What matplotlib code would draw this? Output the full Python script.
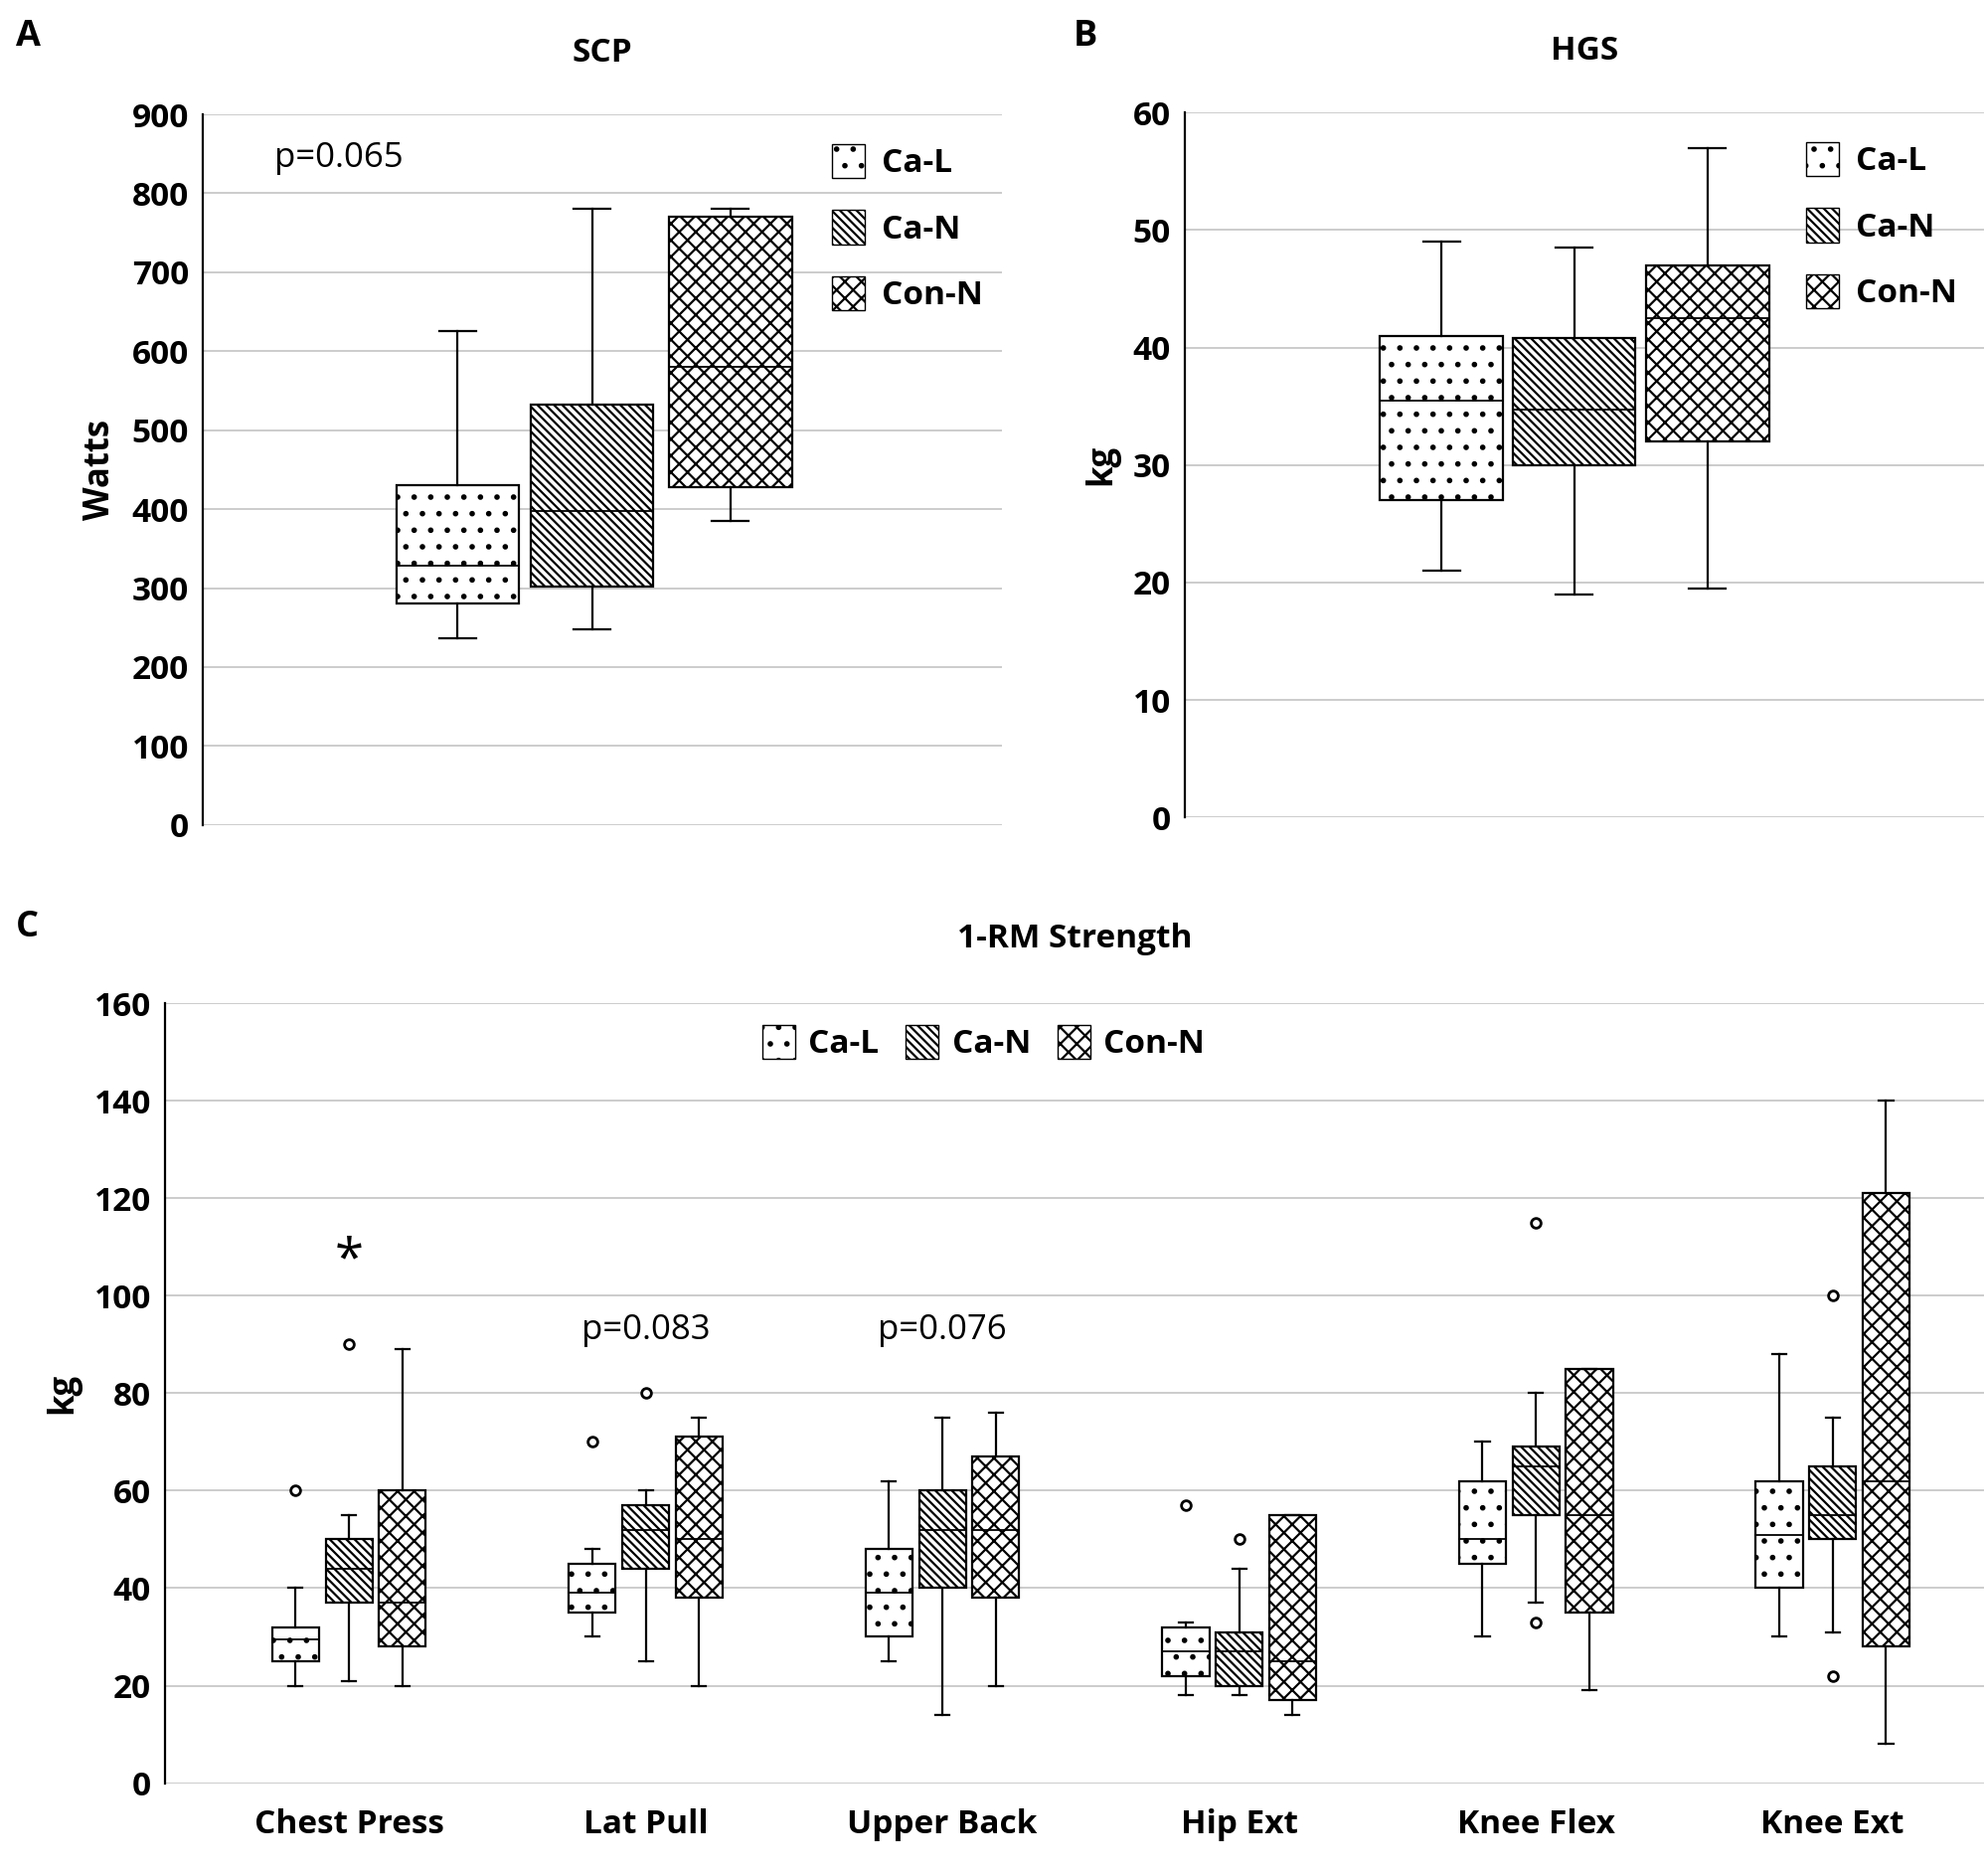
import matplotlib
matplotlib.use("Agg")
import matplotlib.pyplot as plt
from matplotlib.patches import Patch

plt.rcParams['font.family'] = ['Open Sans', 'DejaVu Sans']
plt.rcParams['hatch.linewidth'] = 1.6

groups = ["Ca-L", "Ca-N", "Con-N"]
hatches = [".", "\\\\\\\\", "xx"]

# (whislo, q1, med, q3, whishi, outliers)
scp = [(237, 280, 328, 430, 625, []),
       (248, 302, 398, 532, 780, []),
       (385, 428, 580, 770, 780, [])]
hgs = [(21, 27, 35.5, 41, 49, []),
       (19, 30, 34.7, 40.8, 48.5, []),
       (19.5, 32, 42.5, 47, 57, [])]
exercises = ["Chest Press", "Lat Pull", "Upper Back", "Hip Ext", "Knee Flex", "Knee Ext"]
rm_cal = [(20, 25, 29.5, 32, 40, [60]), (30, 35, 39, 45, 48, [70]), (25, 30, 39, 48, 62, []),
          (18, 22, 27, 32, 33, [57]), (30, 45, 50, 62, 70, []), (30, 40, 51, 62, 88, [])]
rm_can = [(21, 37, 44, 50, 55, [90]), (25, 44, 52, 57, 60, [80]), (14, 40, 52, 60, 75, []),
          (18, 20, 27, 31, 44, [50]), (37, 55, 65, 69, 80, [115, 33]), (31, 50, 55, 65, 75, [100, 22])]
rm_con = [(20, 28, 37, 60, 89, []), (20, 38, 50, 71, 75, []), (20, 38, 52, 67, 76, []),
          (14, 17, 25, 55, 55, []), (19, 35, 55, 85, 85, []), (8, 28, 62, 121, 140, [])]

def stat(t):
    lo, q1, m, q3, hi, fl = t
    return dict(whislo=lo, q1=q1, med=m, q3=q3, whishi=hi, fliers=fl)

def draw(ax, stats, pos, width, hatch):
    b = ax.bxp([stat(s) for s in stats], positions=pos, widths=width, patch_artist=True,
               showcaps=True, manage_ticks=False,
               boxprops=dict(facecolor='white', edgecolor='black', linewidth=1.6),
               medianprops=dict(color='black', linewidth=1.3),
               whiskerprops=dict(color='black', linewidth=1.6),
               capprops=dict(color='black', linewidth=1.6),
               flierprops=dict(marker='o', markersize=7, markerfacecolor='white',
                               markeredgecolor='black', markeredgewidth=2))
    for p in b['boxes']:
        p.set_hatch(hatch)
    for c in b['caps']:
        x = c.get_xdata(); mid = (x[0] + x[1]) / 2; hw = (x[1] - x[0]) / 2 * 0.6
        c.set_xdata([mid - hw, mid + hw])

def style(ax, ymax, step):
    ax.set_ylim(0, ymax)
    ax.set_yticks(range(0, ymax + 1, step))
    ax.grid(axis='y', color='#c8c8c8', linewidth=1.3)
    ax.set_axisbelow(True)
    for s in ['top', 'right', 'bottom']:
        ax.spines[s].set_visible(False)
    ax.spines['left'].set_linewidth(1.6)
    ax.tick_params(axis='y', length=0, labelsize=24, pad=10)
    for l in ax.get_yticklabels():
        l.set_fontweight('bold')

def legend_handles():
    return [Patch(facecolor='white', edgecolor='black', hatch=h, label=g) for g, h in zip(groups, hatches)]

LP = dict(size=24, weight='bold')
fig = plt.figure(figsize=(20, 18.86), dpi=100)

axA = fig.add_axes([0.102, 0.560, 0.402, 0.379])
for i, (s, h) in enumerate(zip(scp, hatches)):
    draw(axA, [s], [[0.319, 0.487, 0.66][i]], 0.154, h)
axA.set_xlim(0, 1); axA.set_xticks([])
style(axA, 900, 100)
axA.set_ylabel("Watts", fontsize=25, fontweight='bold', labelpad=10)
axA.set_title("SCP", fontsize=24, fontweight='bold', pad=38)
axA.text(0.09, 845, "p=0.065", fontsize=25, va='center')
axA.legend(handles=legend_handles(), loc='upper left', bbox_to_anchor=(0.75, 1.0), frameon=False,
           prop=LP, handlelength=1.0, handleheight=1.2, labelspacing=0.9, handletextpad=0.5)
fig.text(0.008, 0.99, "A", fontsize=26, fontweight='bold', va='top')

axB = fig.add_axes([0.596, 0.564, 0.402, 0.376])
for i, (s, h) in enumerate(zip(hgs, hatches)):
    draw(axB, [s], [[0.321, 0.487, 0.654][i]], 0.154, h)
axB.set_xlim(0, 1); axB.set_xticks([])
style(axB, 60, 10)
axB.set_ylabel("kg", fontsize=25, fontweight='bold', labelpad=10)
axB.set_title("HGS", fontsize=24, fontweight='bold', pad=38)
axB.legend(handles=legend_handles(), loc='upper left', bbox_to_anchor=(0.74, 1.0), frameon=False,
           prop=LP, handlelength=1.0, handleheight=1.2, labelspacing=0.9, handletextpad=0.5)
fig.text(0.54, 0.99, "B", fontsize=26, fontweight='bold', va='top')

axC = fig.add_axes([0.083, 0.049, 0.915, 0.416])
xs = list(range(len(exercises)))
for data, off, h in zip([rm_cal, rm_can, rm_con], [-0.18, 0, 0.18], hatches):
    draw(axC, data, [x + off for x in xs], 0.158, h)
axC.set_xlim(-0.62, 5.51)
axC.set_xticks(xs)
axC.set_xticklabels(exercises, fontsize=24, fontweight='bold')
axC.tick_params(axis='x', length=0, pad=18)
style(axC, 160, 20)
axC.set_ylabel("kg", fontsize=25, fontweight='bold', labelpad=10)
axC.set_title("1-RM Strength", fontsize=24, fontweight='bold', pad=40)
axC.text(0, 107, "*", fontsize=38, ha='center', va='center')
axC.text(1, 93, "p=0.083", fontsize=25, ha='center', va='center')
axC.text(2, 93, "p=0.076", fontsize=25, ha='center', va='center')
axC.legend(handles=legend_handles(), loc='upper center', bbox_to_anchor=(0.45, 1.01), ncol=3,
           frameon=False, prop=LP, handlelength=1.0, handleheight=1.2,
           columnspacing=0.8, handletextpad=0.4)
fig.text(0.008, 0.515, "C", fontsize=26, fontweight='bold', va='top')

fig.savefig("out.png", dpi=100)
